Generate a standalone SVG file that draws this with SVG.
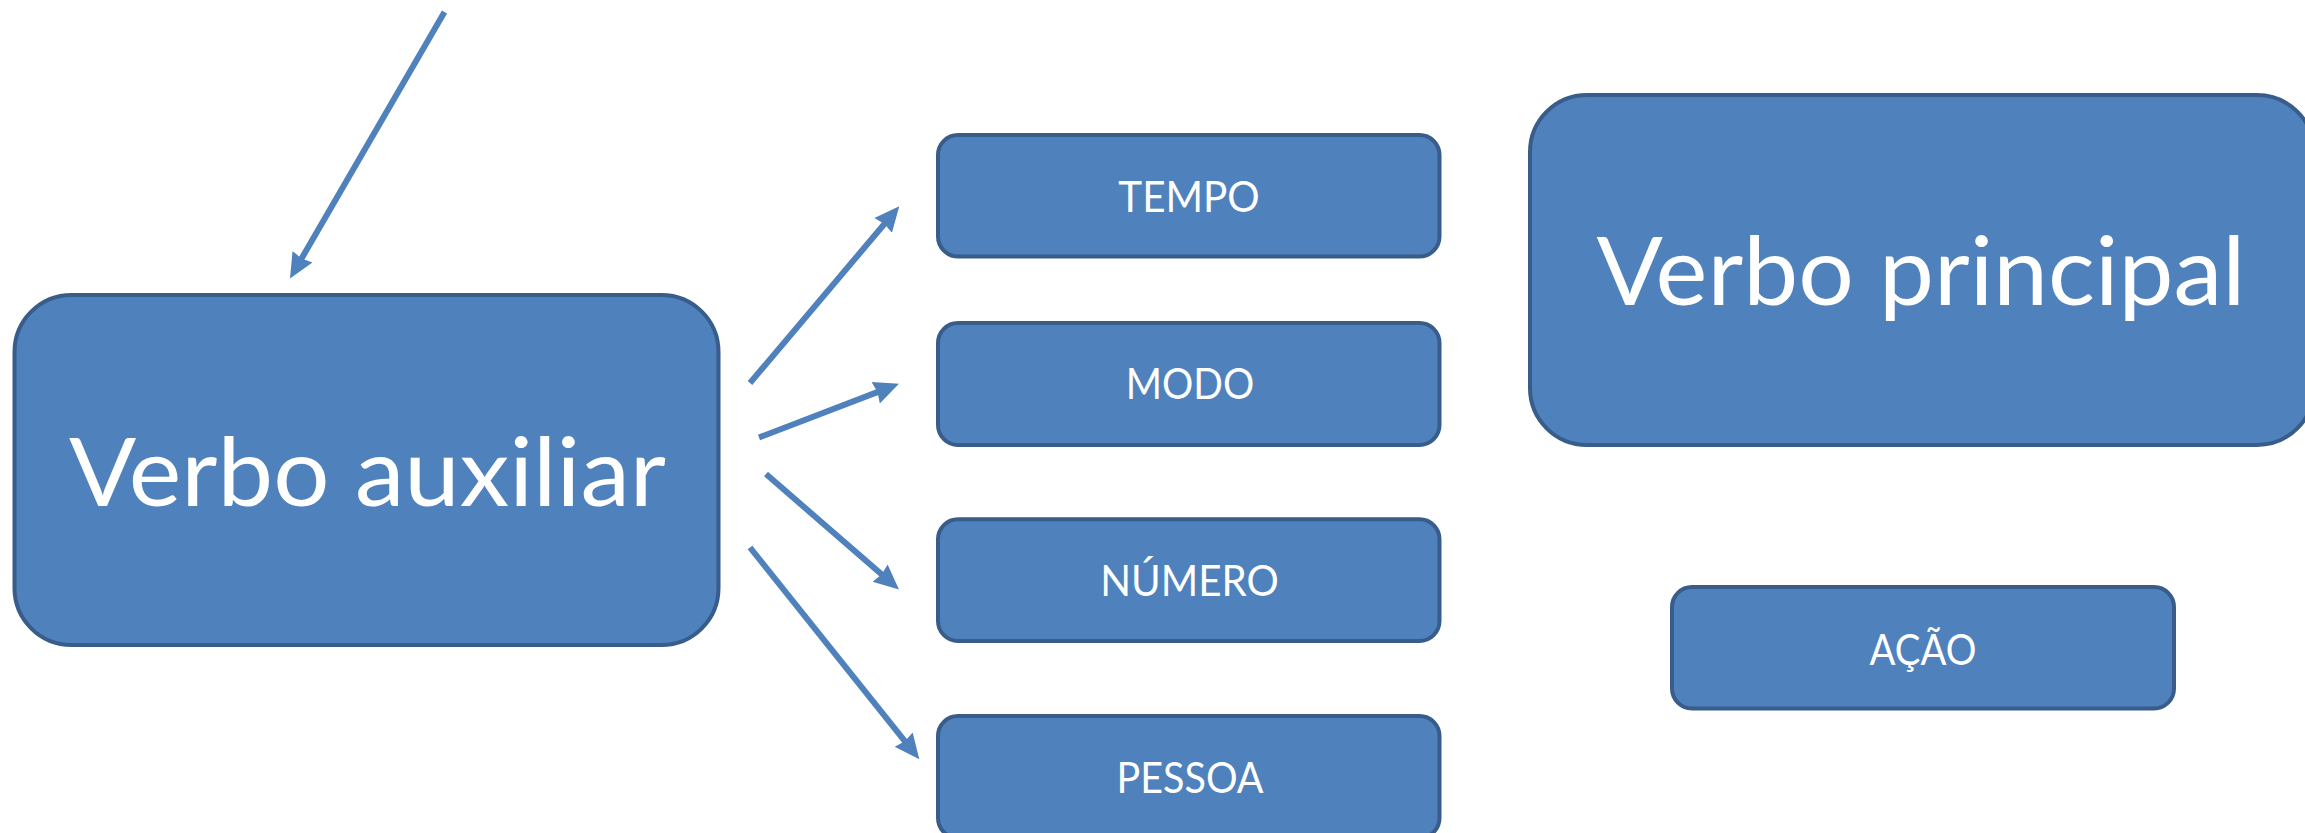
<svg xmlns="http://www.w3.org/2000/svg" width="2305" height="833" viewBox="0 0 2305 833">
<style>
.box{fill:#4F81BD;stroke:#385D8A;stroke-width:4}
.big{font-family:Lato,"Open Sans",sans-serif;font-size:95px;fill:#FFFFFF;text-anchor:middle}
.small{font-family:Lato,"Open Sans",sans-serif;font-size:42px;fill:#FFFFFF;text-anchor:middle}
.conn{stroke:#4F81BD;stroke-width:6;fill:none;stroke-linecap:butt;marker-end:url(#arrow)}
</style>
<defs>
<marker id="arrow" markerUnits="userSpaceOnUse" markerWidth="25" markerHeight="25" viewBox="0 0 25 25" refX="13" refY="12.5" orient="auto">
<path d="M0,1 L25,12.5 L0,24 L2,12.5 Z" fill="#4F81BD"/>
</marker>
</defs>
<rect width="2305" height="833" fill="#FFFFFF"/>
<g id="connectors">
<line class="conn" x1="444.5" y1="12" x2="296.0" y2="268.1"/>
<line class="conn" x1="750" y1="383" x2="891.55" y2="215.5"/>
<line class="conn" x1="759" y1="437.5" x2="887.8" y2="388.1"/>
<line class="conn" x1="766" y1="474" x2="889.9" y2="581.6"/>
<line class="conn" x1="750" y1="547.5" x2="911.8" y2="749.8"/>
</g>
<g id="verbo-auxiliar">
<rect class="box" x="14.5" y="295" width="704" height="350" rx="57" ry="57"/>
<text class="big" x="367.5" y="505.5" textLength="597" lengthAdjust="spacingAndGlyphs">Verbo auxiliar</text>
</g>
<g id="tempo">
<rect class="box" x="938" y="135" width="501.5" height="121.5" rx="20" ry="20"/>
<text class="small" x="1189" y="212.2" textLength="141.5" lengthAdjust="spacingAndGlyphs">TEMPO</text>
</g>
<g id="modo">
<rect class="box" x="938" y="323" width="501.5" height="122" rx="20" ry="20"/>
<text class="small" x="1190" y="399.2" textLength="128.5" lengthAdjust="spacingAndGlyphs">MODO</text>
</g>
<g id="numero">
<rect class="box" x="938" y="519.3" width="501.5" height="121.6" rx="20" ry="20"/>
<text class="small" x="1189.5" y="595.6" textLength="178.6" lengthAdjust="spacingAndGlyphs">NÚMERO</text>
</g>
<g id="pessoa">
<rect class="box" x="938" y="716" width="501.5" height="122" rx="20" ry="20"/>
<text class="small" x="1190" y="792.5" textLength="147" lengthAdjust="spacingAndGlyphs">PESSOA</text>
</g>
<g id="verbo-principal">
<rect class="box" x="1530" y="95" width="784" height="350" rx="57" ry="57"/>
<text class="big" x="1921" y="305.3" textLength="649" lengthAdjust="spacingAndGlyphs">Verbo principal</text>
</g>
<g id="acao">
<rect class="box" x="1672" y="587" width="502" height="121.5" rx="20" ry="20"/>
<text class="small" x="1923" y="665" textLength="106.8" lengthAdjust="spacingAndGlyphs">AÇÃO</text>
</g>
</svg>
